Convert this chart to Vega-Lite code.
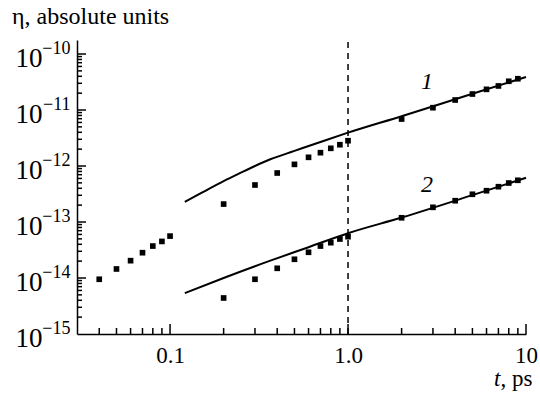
{
  "$schema": "https://vega.github.io/schema/vega-lite/v6.json",
  "width": 449,
  "height": 294,
  "autosize": {"type": "none"},
  "padding": {"left": 77, "top": 40, "right": 14, "bottom": 60},
  "background": "white",
  "title": {"text": "η, absolute units", "anchor": "start", "frame": "group", "font": "Liberation Serif", "fontSize": 24, "fontWeight": "normal", "color": "black", "baseline": "alphabetic", "dx": -65, "dy": 23, "offset": 14},
  "config": {
    "view": {"stroke": null},
    "font": "Liberation Serif",
    "axis": {"labelFont": "Liberation Serif", "titleFont": "Liberation Serif", "grid": false, "labelColor": "black", "titleColor": "black", "tickColor": "black", "domainColor": "black", "titleFontWeight": "normal", "labelOverlap": false, "labelFlush": false}
  },
  "resolve": {"axis": {"x": "independent", "y": "independent"}},
  "datasets": {
    "points": [
      {"t": 0.04, "eta": 9.5e-15}, {"t": 0.05, "eta": 1.45e-14}, {"t": 0.06, "eta": 2.04e-14}, {"t": 0.07, "eta": 2.83e-14}, {"t": 0.08, "eta": 3.72e-14}, {"t": 0.09, "eta": 4.5e-14}, {"t": 0.1, "eta": 5.6e-14},
      {"t": 0.2, "eta": 2.09e-13}, {"t": 0.3, "eta": 4.58e-13}, {"t": 0.4, "eta": 7.5e-13}, {"t": 0.5, "eta": 1.07e-12}, {"t": 0.6, "eta": 1.43e-12}, {"t": 0.7, "eta": 1.73e-12}, {"t": 0.8, "eta": 2.07e-12}, {"t": 0.9, "eta": 2.4e-12}, {"t": 1.0, "eta": 2.83e-12},
      {"t": 2, "eta": 6.9e-12}, {"t": 3, "eta": 1.1e-11}, {"t": 4, "eta": 1.51e-11}, {"t": 5, "eta": 1.93e-11}, {"t": 6, "eta": 2.34e-11}, {"t": 7, "eta": 2.69e-11}, {"t": 8, "eta": 3.26e-11}, {"t": 9, "eta": 3.62e-11},
      {"t": 0.2, "eta": 4.4e-15}, {"t": 0.3, "eta": 9.5e-15}, {"t": 0.4, "eta": 1.49e-14}, {"t": 0.5, "eta": 2.16e-14}, {"t": 0.6, "eta": 2.88e-14}, {"t": 0.7, "eta": 3.72e-14}, {"t": 0.8, "eta": 4.27e-14}, {"t": 0.9, "eta": 4.97e-14}, {"t": 1.0, "eta": 5.47e-14},
      {"t": 2, "eta": 1.19e-13}, {"t": 3, "eta": 1.83e-13}, {"t": 4, "eta": 2.4e-13}, {"t": 5, "eta": 3.13e-13}, {"t": 6, "eta": 3.62e-13}, {"t": 7, "eta": 4.27e-13}, {"t": 8, "eta": 4.97e-13}, {"t": 9, "eta": 5.56e-13}
    ],
    "fits": [
      {"curve": "1", "t": 0.121, "eta": 2.29e-13}, {"curve": "1", "t": 0.15, "eta": 3.31e-13}, {"curve": "1", "t": 0.2, "eta": 5.37e-13}, {"curve": "1", "t": 0.25, "eta": 7.59e-13}, {"curve": "1", "t": 0.3, "eta": 1.0e-12}, {"curve": "1", "t": 0.366, "eta": 1.32e-12}, {"curve": "1", "t": 0.5, "eta": 1.86e-12}, {"curve": "1", "t": 0.7, "eta": 2.69e-12}, {"curve": "1", "t": 1.0, "eta": 3.94e-12}, {"curve": "1", "t": 2, "eta": 7.76e-12}, {"curve": "1", "t": 5, "eta": 1.95e-11}, {"curve": "1", "t": 10, "eta": 3.89e-11},
      {"curve": "2", "t": 0.121, "eta": 5.37e-15}, {"curve": "2", "t": 0.2, "eta": 1.0e-14}, {"curve": "2", "t": 0.366, "eta": 2.04e-14}, {"curve": "2", "t": 0.6, "eta": 3.55e-14}, {"curve": "2", "t": 1.0, "eta": 6.31e-14}, {"curve": "2", "t": 2, "eta": 1.2e-13}, {"curve": "2", "t": 5, "eta": 3.02e-13}, {"curve": "2", "t": 10, "eta": 6.17e-13}
    ],
    "labels": [
      {"t": 2.78, "eta": 3.13e-11, "label": "1"},
      {"t": 2.78, "eta": 4.57e-13, "label": "2"}
    ],
    "ref": [
      {"t": 1, "eta": 1e-15, "eta2": 1.78e-10}
    ],
    "xticks": [
      {"t": 0.04, "kind": "minor"}, {"t": 0.05, "kind": "minor"}, {"t": 0.06, "kind": "minor"}, {"t": 0.07, "kind": "minor"}, {"t": 0.08, "kind": "minor"}, {"t": 0.09, "kind": "minor"}, {"t": 0.1, "kind": "major"},
      {"t": 0.2, "kind": "minor"}, {"t": 0.3, "kind": "minor"}, {"t": 0.4, "kind": "minor"}, {"t": 0.5, "kind": "minor"}, {"t": 0.6, "kind": "minor"}, {"t": 0.7, "kind": "minor"}, {"t": 0.8, "kind": "minor"}, {"t": 0.9, "kind": "minor"}, {"t": 1, "kind": "major"},
      {"t": 2, "kind": "minor"}, {"t": 3, "kind": "minor"}, {"t": 4, "kind": "minor"}, {"t": 5, "kind": "minor"}, {"t": 6, "kind": "minor"}, {"t": 7, "kind": "minor"}, {"t": 8, "kind": "minor"}, {"t": 9, "kind": "minor"}, {"t": 10, "kind": "major"}
    ],
    "yticks": [
      {"eta": 2e-15, "kind": "minor"}, {"eta": 3e-15, "kind": "minor"}, {"eta": 4e-15, "kind": "minor"}, {"eta": 5e-15, "kind": "minor"}, {"eta": 6e-15, "kind": "minor"}, {"eta": 7e-15, "kind": "minor"}, {"eta": 8e-15, "kind": "minor"}, {"eta": 9e-15, "kind": "minor"}, {"eta": 1e-14, "kind": "major"},
      {"eta": 2e-14, "kind": "minor"}, {"eta": 3e-14, "kind": "minor"}, {"eta": 4e-14, "kind": "minor"}, {"eta": 5e-14, "kind": "minor"}, {"eta": 6e-14, "kind": "minor"}, {"eta": 7e-14, "kind": "minor"}, {"eta": 8e-14, "kind": "minor"}, {"eta": 9e-14, "kind": "minor"}, {"eta": 1e-13, "kind": "major"},
      {"eta": 2e-13, "kind": "minor"}, {"eta": 3e-13, "kind": "minor"}, {"eta": 4e-13, "kind": "minor"}, {"eta": 5e-13, "kind": "minor"}, {"eta": 6e-13, "kind": "minor"}, {"eta": 7e-13, "kind": "minor"}, {"eta": 8e-13, "kind": "minor"}, {"eta": 9e-13, "kind": "minor"}, {"eta": 1e-12, "kind": "major"},
      {"eta": 2e-12, "kind": "minor"}, {"eta": 3e-12, "kind": "minor"}, {"eta": 4e-12, "kind": "minor"}, {"eta": 5e-12, "kind": "minor"}, {"eta": 6e-12, "kind": "minor"}, {"eta": 7e-12, "kind": "minor"}, {"eta": 8e-12, "kind": "minor"}, {"eta": 9e-12, "kind": "minor"}, {"eta": 1e-11, "kind": "major"},
      {"eta": 2e-11, "kind": "minor"}, {"eta": 3e-11, "kind": "minor"}, {"eta": 4e-11, "kind": "minor"}, {"eta": 5e-11, "kind": "minor"}, {"eta": 6e-11, "kind": "minor"}, {"eta": 7e-11, "kind": "minor"}, {"eta": 8e-11, "kind": "minor"}, {"eta": 9e-11, "kind": "minor"}, {"eta": 1e-10, "kind": "major"}
    ]
  },
  "layer": [
    {
      "data": {"name": "fits"},
      "mark": {"type": "line", "color": "black", "strokeWidth": 2, "interpolate": "monotone"},
      "encoding": {
        "x": {
          "field": "t", "type": "quantitative",
          "scale": {"type": "log", "domain": [0.03, 10], "nice": false},
          "axis": {
            "orient": "bottom",
            "values": [0.1, 1, 10],
            "labelExpr": "datum.value == 0.1 ? '0.1' : datum.value == 1 ? '1.0' : '10'",
            "domainWidth": 1.5, "ticks": false,
            "labelFontSize": 23, "labelBaseline": "alphabetic", "labelPadding": 28,
            "title": "t", "titleFontSize": 23, "titleFontStyle": "italic",
            "titleAlign": "right", "titleBaseline": "alphabetic", "titleX": 423, "titleY": 51
          }
        },
        "y": {
          "field": "eta", "type": "quantitative",
          "scale": {"type": "log", "domain": [1e-15, 1.78e-10], "nice": false},
          "axis": {
            "orient": "left",
            "values": [1e-15, 1e-14, 1e-13, 1e-12, 1e-11, 1e-10],
            "labelExpr": "'10'",
            "domainWidth": 1.5, "ticks": false,
            "labelFontSize": 27, "labelBaseline": "alphabetic", "labelOffset": 12, "labelAlign": "right", "labelPadding": 35,
            "title": null
          }
        },
        "detail": {"field": "curve", "type": "nominal"}
      }
    },
    {
      "data": {"name": "ref"},
      "mark": {"type": "rule", "color": "black", "strokeWidth": 1.5, "strokeDash": [6, 5]},
      "encoding": {
        "x": {"field": "t", "type": "quantitative", "axis": null},
        "y": {"field": "eta", "type": "quantitative", "axis": null},
        "y2": {"field": "eta2"}
      }
    },
    {
      "data": {"name": "points"},
      "mark": {"type": "point", "shape": "square", "filled": true, "size": 32, "color": "black", "opacity": 1},
      "encoding": {
        "x": {"field": "t", "type": "quantitative", "axis": null},
        "y": {"field": "eta", "type": "quantitative", "axis": null}
      }
    },
    {
      "data": {"name": "xticks"},
      "transform": [{"filter": "datum.kind == 'major'"}],
      "mark": {"type": "point", "shape": "M0,0L0,-2", "size": 100, "filled": false, "stroke": "black", "strokeWidth": 1.5, "opacity": 1},
      "encoding": {
        "x": {"field": "t", "type": "quantitative", "axis": null},
        "y": {"datum": 1e-15, "type": "quantitative", "axis": null}
      }
    },
    {
      "data": {"name": "xticks"},
      "transform": [{"filter": "datum.kind == 'minor'"}],
      "mark": {"type": "point", "shape": "M0,0L0,-2", "size": 36, "filled": false, "stroke": "black", "strokeWidth": 1.5, "opacity": 1},
      "encoding": {
        "x": {"field": "t", "type": "quantitative", "axis": null},
        "y": {"datum": 1e-15, "type": "quantitative", "axis": null}
      }
    },
    {
      "data": {"name": "yticks"},
      "transform": [{"filter": "datum.kind == 'major'"}],
      "mark": {"type": "point", "shape": "M0,0L2,0", "size": 81, "filled": false, "stroke": "black", "strokeWidth": 1.5, "opacity": 1},
      "encoding": {
        "y": {"field": "eta", "type": "quantitative", "axis": null},
        "x": {"datum": 0.03, "type": "quantitative", "axis": null}
      }
    },
    {
      "data": {"name": "yticks"},
      "transform": [{"filter": "datum.kind == 'minor'"}],
      "mark": {"type": "point", "shape": "M0,0L2,0", "size": 25, "filled": false, "stroke": "black", "strokeWidth": 1.5, "opacity": 1},
      "encoding": {
        "y": {"field": "eta", "type": "quantitative", "axis": null},
        "x": {"datum": 0.03, "type": "quantitative", "axis": null}
      }
    },
    {
      "data": {"name": "labels"},
      "mark": {"type": "text", "font": "Liberation Serif", "fontStyle": "italic", "fontSize": 24, "color": "black", "baseline": "middle", "align": "center"},
      "encoding": {
        "x": {
          "field": "t", "type": "quantitative",
          "axis": {
            "orient": "bottom", "values": [10],
            "domain": false, "ticks": false, "labels": false,
            "title": ", ps", "titleFontSize": 23, "titleFontStyle": "normal",
            "titleAlign": "left", "titleBaseline": "alphabetic", "titleX": 423, "titleY": 51
          }
        },
        "y": {
          "field": "eta", "type": "quantitative",
          "axis": {
            "orient": "left",
            "values": [1e-15, 1e-14, 1e-13, 1e-12, 1e-11, 1e-10],
            "labelExpr": "'−' + format(-round(log(datum.value)/LN10), 'd')",
            "domain": false, "ticks": false,
            "labelFontSize": 18, "labelBaseline": "alphabetic", "labelOffset": -1, "labelAlign": "right", "labelPadding": 7,
            "title": null
          }
        },
        "text": {"field": "label", "type": "nominal"}
      }
    }
  ]
}
